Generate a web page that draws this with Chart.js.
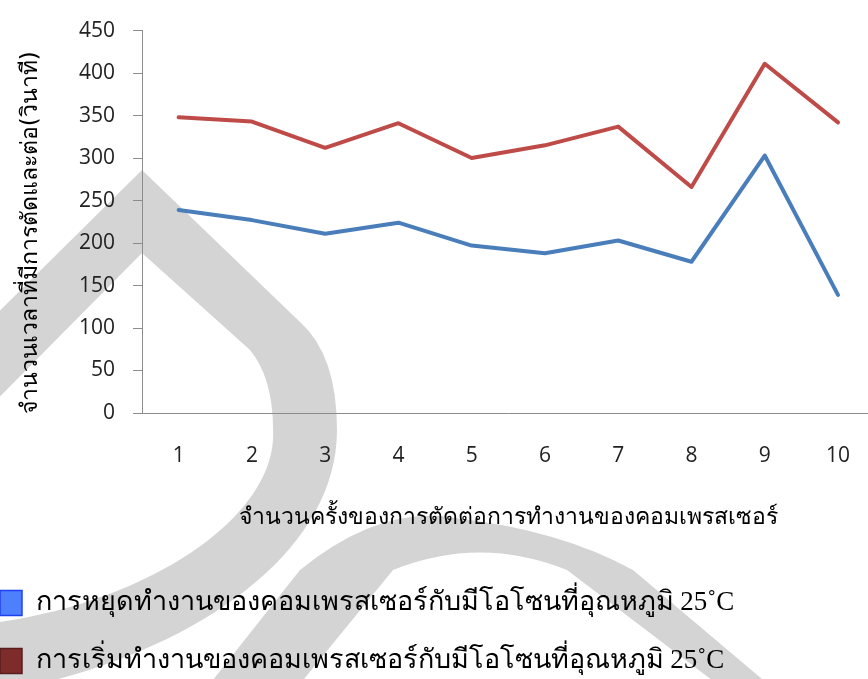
<!DOCTYPE html>
<html>
<head>
<meta charset="utf-8">
<script src="https://cdn.jsdelivr.net/npm/chart.js@4/dist/chart.umd.min.js"></script>
<style>
  html, body { margin: 0; padding: 0; overflow: hidden; background: #ffffff; }
  #wrap { position: absolute; left: 0; top: 0; width: 880px; height: 679px; }
</style>
</head>
<body>
<div id="wrap"><canvas id="c" width="880" height="679"></canvas></div>
<script>
// Number of cut/restart events (x) and the time in seconds for each event (y)
const categories = ['1', '2', '3', '4', '5', '6', '7', '8', '9', '10'];
const stopTimes  = [239, 227, 211, 224, 197, 188, 203, 178, 303, 139];
const startTimes = [348, 343, 312, 341, 300, 315, 337, 266, 411, 342];
const yTicks = [0, 50, 100, 150, 200, 250, 300, 350, 400, 450];

const seriesNames = [
  'การหยุดทำงานของคอมเพรสเซอร์กับมีโอโซนที่อุณหภูมิ 25˚C',
  'การเริ่มทำงานของคอมเพรสเซอร์กับมีโอโซนที่อุณหภูมิ 25˚C'
];
const xTitle = 'จำนวนครั้งของการตัดต่อการทำงานของคอมเพรสเซอร์';
const yTitle = 'จำนวนเวลาที่มีการตัดและต่อ(วินาที)   ';

const lineColors = ['#4a7ebb', '#be4b48'];
const keyFill = ['#4d7fff', '#7e2b2b'];
const keyStroke = ['#1f40f0', '#5a1d1d'];

const thaiSerif = '"Liberation Serif", "DejaVu Serif", serif';
const tickFont = '"Open Sans", "Liberation Sans", sans-serif';

// light grey background emblem behind the plot
const emblem = {
  id: 'emblem',
  beforeDraw(chart) {
    const ctx = chart.ctx;
    ctx.save();
    ctx.fillStyle = '#d4d4d4';
    ctx.beginPath();
    ctx.moveTo(-60, 370);
    ctx.lineTo(142, 170);
    ctx.lineTo(300, 322);
    ctx.quadraticCurveTo(337, 355, 337, 430);
    ctx.bezierCurveTo(337, 560, 180, 660, 0, 692);
    ctx.lineTo(0, 622);
    ctx.bezierCurveTo(150, 600, 268, 520, 273, 440);
    ctx.quadraticCurveTo(275, 380, 250, 350);
    ctx.lineTo(142, 253);
    ctx.lineTo(-60, 457);
    ctx.closePath();
    ctx.fill();

    ctx.beginPath();
    ctx.moveTo(205, 690);
    ctx.lineTo(300, 570);
    ctx.quadraticCurveTo(380, 505, 455, 518);
    ctx.quadraticCurveTo(560, 530, 633, 570);
    ctx.lineTo(775, 690);
    ctx.lineTo(725, 690);
    ctx.lineTo(567, 570);
    ctx.quadraticCurveTo(480, 535, 393, 570);
    ctx.lineTo(295, 690);
    ctx.closePath();
    ctx.fill();
    ctx.restore();
  }
};

new Chart(document.getElementById('c'), {
  type: 'line',
  data: {
    labels: categories,
    datasets: [
      { label: seriesNames[0], data: stopTimes, borderColor: lineColors[0], backgroundColor: keyFill[0] },
      { label: seriesNames[1], data: startTimes, borderColor: lineColors[1], backgroundColor: keyFill[1] }
    ]
  },
  options: {
    responsive: false,
    animation: false,
    events: [],
    layout: { padding: { left: -31, top: 11, right: 0, bottom: -5.5 } },
    elements: {
      line: { borderWidth: 4, tension: 0, borderCapStyle: 'round', borderJoinStyle: 'round' },
      point: { radius: 0 }
    },
    scales: {
      x: {
        offset: true,
        grid: { display: false, drawTicks: false },
        border: { display: true, color: '#8c8c8c', width: 1 },
        ticks: { color: '#222', padding: 30, font: { family: tickFont, size: 21 } },
        title: {
          display: true, text: xTitle, color: '#000',
          font: { family: thaiSerif, size: 23 },
          padding: { top: 0, bottom: 26.5 }
        },
        afterFit(s) { s.height = 145.5; }
      },
      y: {
        min: 0, max: 450,
        afterBuildTicks(s) { s.ticks = yTicks.map(v => ({ value: v })); },
        grid: { drawOnChartArea: false, drawTicks: true, tickLength: 9, color: '#8c8c8c' },
        border: { display: true, color: '#8c8c8c', width: 1 },
        ticks: { color: '#222', padding: 18, font: { family: tickFont, size: 21 } },
        title: {
          display: true, text: yTitle, color: '#000',
          font: { family: '"DejaVu Sans", sans-serif', size: 23 },
          padding: { top: 48, bottom: 0 }
        },
        afterFit(s) { s.width = 173; }
      }
    },
    plugins: {
      tooltip: { enabled: false },
      legend: {
        position: 'bottom',
        align: 'start',
        labels: {
          color: '#000',
          boxWidth: 22,
          boxHeight: 25,
          padding: 31,
          font: { family: thaiSerif, size: 27 },
          generateLabels(chart) {
            return chart.data.datasets.map((ds, i) => ({
              text: ds.label,
              fillStyle: keyFill[i],
              strokeStyle: keyStroke[i],
              lineWidth: 1.5,
              datasetIndex: i
            }));
          }
        }
      }
    }
  },
  plugins: [emblem]
});
</script>
</body>
</html>
